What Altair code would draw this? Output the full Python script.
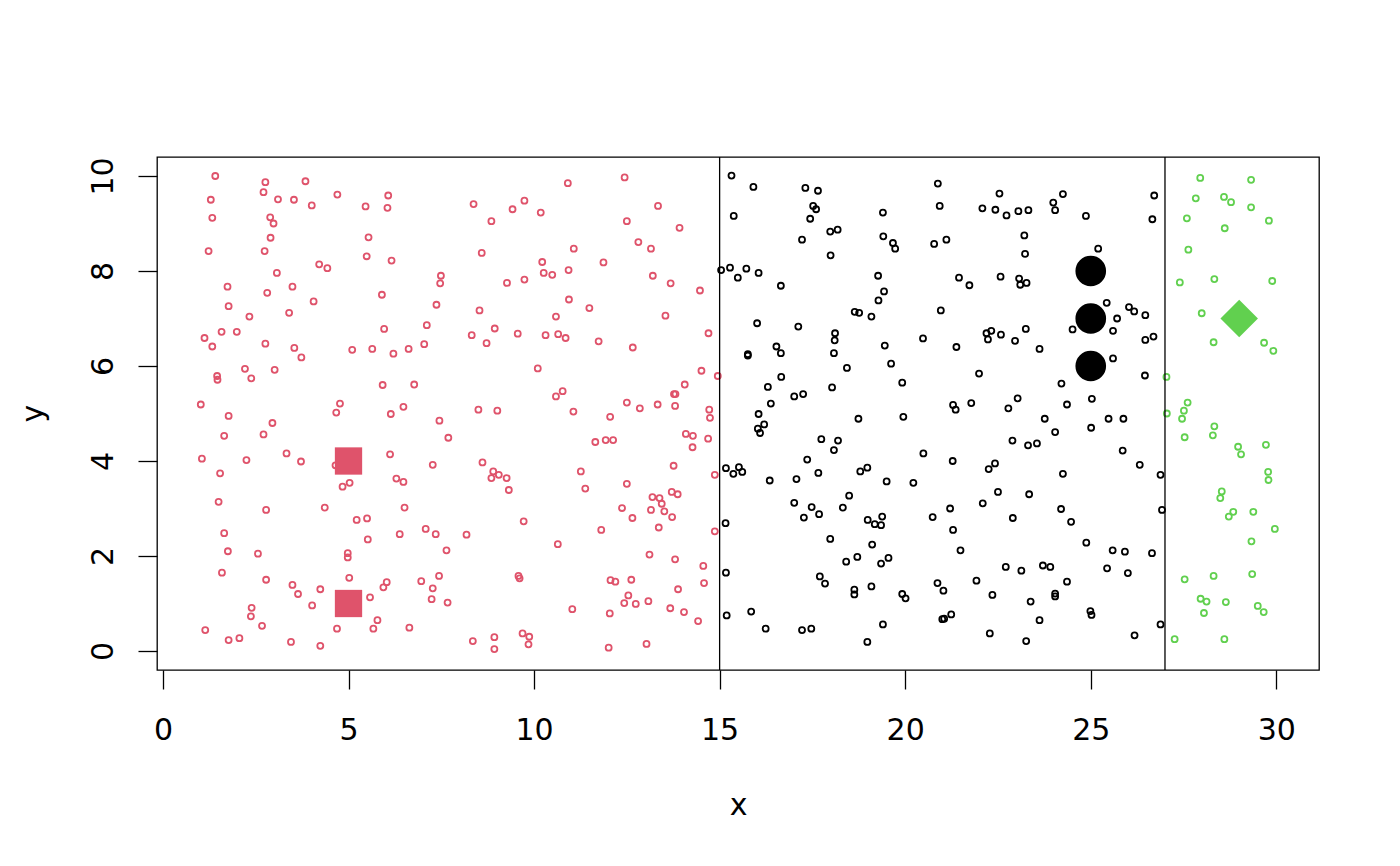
import altair as alt
import pandas as pd

# small open circles, one group per band (x < 15, 15..27, > 27)
red_x = [1.41, 2.76, 3.84, 1.29, 2.71, 3.10, 3.53, 4.01, 4.70, 6.07, 5.46, 6.05, 1.33, 2.89, 2.98, 2.90,
         5.54, 1.23, 2.74, 5.49, 6.16, 4.21, 4.43, 3.07, 7.49, 7.47, 1.74, 3.49, 2.81, 5.90, 7.37, 1.77,
         4.06, 3.40, 2.33, 7.11, 5.96, 1.58, 1.99, 1.12, 1.33, 2.76, 3.54, 3.73, 5.10, 5.64, 6.21, 6.62,
         7.04, 1.46, 1.47, 2.21, 2.38, 3.01, 5.92, 6.77, 1.02, 4.77, 4.67, 6.48, 6.14, 1.77,
         7.45, 2.95, 1.65, 2.71, 7.69, 1.05, 2.25, 3.33, 3.72, 4.65, 6.12, 7.27, 1.54, 6.29, 6.48, 5.03,
         4.84, 1.50, 2.78, 4.36, 6.51, 5.22, 5.50, 1.65, 5.52, 6.38, 7.08, 7.35, 1.75, 2.56, 4.98, 4.98,
         7.64, 1.59, 2.78, 5.02, 3.49, 3.64, 4.24, 6.03, 5.94, 6.96, 7.44, 7.27, 7.24, 7.67, 5.58, 4.02,
         2.39, 2.37, 2.67, 5.78, 5.67, 4.69, 6.64, 1.14, 1.77, 2.06, 3.45, 4.24,
         10.91, 12.44, 8.37, 9.42, 9.74, 10.18, 8.85, 13.34, 12.50, 13.92, 12.81, 13.15, 8.59, 11.07,
         10.22, 11.87, 10.26, 10.49, 10.93, 9.27, 9.74, 13.20, 13.68, 14.47, 10.94, 11.49, 8.53, 10.59,
         13.54, 8.94, 8.32, 8.72, 9.56, 10.31, 10.65, 10.85, 11.74, 12.66, 14.70, 10.10, 14.51, 14.95,
         14.06, 13.77, 13.81, 10.77, 10.59, 12.50, 12.85, 13.33, 13.80, 14.72, 8.50, 9.01, 11.06,
         12.05, 14.74, 11.65, 11.93, 12.13, 14.09, 14.28, 14.69, 14.27, 8.61, 8.90, 9.05, 8.85, 9.26,
         9.32, 11.26, 11.38, 13.76, 14.87, 12.50, 13.19, 13.38, 13.44, 13.71, 13.87, 12.37, 13.15, 13.51,
         12.65, 13.72, 13.36, 9.72, 8.18, 11.81, 14.87, 10.64, 13.11, 13.80, 14.56, 14.58, 13.88, 9.58,
         9.61, 12.06, 12.19, 12.62, 12.54, 12.43, 12.74, 13.08, 11.03, 12.04, 13.67, 14.04, 14.42, 8.35,
         8.93, 8.93, 9.69, 9.87, 9.85, 12.01, 13.03]
red_y = [10.00, 9.87, 9.89, 9.50, 9.66, 9.51, 9.50, 9.38, 9.61, 9.59, 9.36, 9.33, 9.12, 9.13, 9.00, 8.70,
         8.71, 8.42, 8.42, 8.31, 8.22, 8.14, 8.06, 7.96, 7.90, 7.74, 7.67, 7.67, 7.54, 7.50, 7.29, 7.26,
         7.36, 7.12, 7.04, 6.86, 6.78, 6.72, 6.72, 6.59, 6.41, 6.47, 6.38, 6.18, 6.34, 6.36, 6.26, 6.36,
         6.46, 5.79, 5.71, 5.94, 5.74, 5.92, 5.60, 5.61, 5.19, 5.21, 5.02, 5.14, 4.99, 4.95,
         4.85, 4.80, 4.53, 4.56, 4.49, 4.05, 4.02, 4.16, 3.99, 3.91, 4.14, 3.92, 3.74, 3.63, 3.56, 3.54,
         3.46, 3.14, 2.97, 3.02, 3.02, 2.76, 2.79, 2.48, 2.35, 2.46, 2.57, 2.46, 2.10, 2.05, 2.06, 1.97,
         2.12, 1.65, 1.50, 1.54, 1.39, 1.20, 1.30, 1.45, 1.34, 1.47, 1.58, 1.32, 1.09, 1.02, 1.13, 0.96,
         0.91, 0.73, 0.53, 0.65, 0.47, 0.47, 0.49, 0.44, 0.23, 0.27, 0.19, 0.11,
         9.85, 9.97, 9.41, 9.30, 9.48, 9.23, 9.05, 9.37, 9.05, 8.91, 8.61, 8.47, 8.38, 8.47,
         8.19, 8.18, 7.96, 7.92, 8.02, 7.75, 7.82, 7.90, 7.74, 7.59, 7.40, 7.22, 7.17, 7.04,
         7.06, 6.79, 6.65, 6.48, 6.68, 6.65, 6.67, 6.59, 6.52, 6.39, 6.69, 5.95, 5.90, 5.79,
         5.61, 5.41, 5.41, 5.47, 5.36, 5.23, 5.11, 5.19, 5.16, 5.08, 5.08, 5.06, 5.04,
         4.93, 4.91, 4.40, 4.44, 4.44, 4.57, 4.53, 4.47, 4.29, 3.97, 3.78, 3.71, 3.64, 3.64,
         3.39, 3.78, 3.42, 3.90, 3.71, 3.52, 3.24, 3.22, 3.10, 3.35, 3.30, 3.01, 2.97, 2.94,
         2.80, 2.82, 2.60, 2.73, 2.45, 2.55, 2.52, 2.25, 2.03, 1.93, 1.79, 1.43, 1.30, 1.58,
         1.53, 1.49, 1.46, 1.50, 1.17, 1.01, 0.99, 1.05, 0.88, 0.79, 0.90, 0.82, 0.63, 0.21,
         0.29, 0.04, 0.37, 0.30, 0.14, 0.07, 0.15]

black_x = [15.32, 15.38, 15.04, 15.28, 15.49, 15.17, 15.37, 15.52, 15.16, 15.17, 15.19,
           15.72, 15.91, 17.31, 17.65, 17.52, 17.60, 17.44, 17.98, 18.18, 17.22, 17.99, 20.88, 20.93,
           19.40, 19.41, 19.67, 19.73, 20.78, 21.11, 22.54, 22.08, 22.43, 22.73, 23.05, 23.32, 23.21,
           23.23, 16.05, 16.65, 19.27, 19.43, 19.28, 18.64, 18.76, 19.09, 21.45, 21.73, 22.57, 23.07,
           23.10, 23.27, 20.96, 16.01, 17.12, 18.11, 18.10, 18.08, 15.76, 15.76, 16.53, 16.65, 18.43,
           16.66, 16.30, 18.03, 17.01, 17.25, 16.38, 19.45, 19.62, 19.92, 20.48, 21.38, 22.19, 22.32,
           22.23, 22.58, 22.96, 23.25, 21.99, 21.78, 21.29, 21.36, 22.78, 23.03,
           16.05, 18.74, 19.95, 16.03, 16.20, 16.09, 17.74, 18.19, 18.08, 17.36, 15.61, 16.35, 17.07,
           17.66, 18.79, 18.98, 19.50, 20.22, 20.49, 21.28, 22.25, 22.42, 22.89, 23.31, 23.34, 22.50,
           22.09, 22.90, 17.01, 17.48, 17.27, 17.68, 18.49, 18.32, 18.99, 19.18, 19.35, 19.38, 20.74,
           21.21, 21.29, 21.49, 17.98, 19.11, 18.41, 18.71, 19.35, 19.55, 17.70, 17.84, 18.63, 18.63,
           19.09, 19.92, 20.01, 20.87, 21.03, 21.92, 22.71, 23.13, 22.35, 23.38, 15.85, 16.24, 17.22,
           17.47, 19.40, 18.98, 21.00, 21.05, 21.24, 22.28, 23.26,
           24.25, 23.99, 24.04, 24.87, 26.71, 26.66, 25.20, 25.43, 26.03, 26.17, 26.47, 25.71, 24.51,
           25.60, 26.69, 26.47, 23.62, 25.60, 26.46, 24.21, 25.03, 24.36,
           23.76, 25.48, 25.88, 24.04, 25.01, 23.55, 25.86, 26.32, 24.25, 26.88, 24.20, 26.92, 24.47,
           24.88, 25.59, 25.92, 26.65, 23.71, 23.91, 25.44, 26.00, 24.36, 24.04, 24.04, 24.99, 25.02,
           23.62, 26.88, 26.18]
black_y = [10.01, 9.16, 8.02, 8.07, 7.86, 3.85, 3.73, 3.87, 2.69, 1.65, 0.75,
           8.05, 9.77, 9.75, 9.69, 9.37, 9.30, 9.10, 8.83, 8.87, 8.66, 8.33, 9.84, 9.37,
           9.23, 8.73, 8.59, 8.47, 8.57, 8.66, 9.63, 9.32, 9.29, 9.17, 9.26, 9.28, 8.75,
           8.36, 7.96, 7.69, 7.90, 7.57, 7.38, 7.14, 7.12, 7.04, 7.86, 7.70, 7.88, 7.84,
           7.71, 7.75, 7.17, 6.90, 6.83, 6.69, 6.54, 6.27, 6.25, 6.22, 6.41, 6.27, 5.96,
           5.77, 5.56, 5.55, 5.36, 5.41, 5.21, 6.43, 6.05, 5.65, 6.58, 6.40, 6.69, 6.74,
           6.56, 6.66, 6.53, 6.78, 5.84, 5.22, 5.18, 5.08, 5.11, 5.32,
           4.99, 4.89, 4.93, 4.68, 4.77, 4.59, 4.46, 4.43, 4.23, 4.03, 3.77, 3.59, 3.62,
           3.75, 3.78, 3.86, 3.57, 3.54, 4.16, 4.00, 3.83, 3.95, 4.43, 4.33, 3.30, 3.35,
           3.11, 2.80, 3.12, 3.03, 2.81, 2.88, 3.27, 3.02, 2.76, 2.67, 2.65, 2.83, 2.82,
           3.00, 2.55, 2.12, 2.36, 2.24, 1.88, 1.98, 1.84, 1.96, 1.57, 1.42, 1.29, 1.19,
           1.36, 1.20, 1.11, 1.43, 1.27, 1.48, 1.77, 1.69, 1.18, 1.04, 0.83, 0.47, 0.44,
           0.47, 0.56, 0.19, 0.67, 0.68, 0.77, 0.37, 0.21,
           9.62, 9.44, 9.28, 9.16, 9.59, 9.09, 8.47, 7.33, 7.24, 7.15, 7.07, 7.00, 6.77,
           6.74, 6.62, 6.55, 6.36, 6.16, 5.80, 5.63, 5.31, 5.19,
           4.89, 4.89, 4.89, 4.61, 4.70, 4.37, 4.22, 3.92, 3.73, 3.71, 2.99, 2.97, 2.72,
           2.28, 2.12, 2.09, 2.06, 1.80, 1.77, 1.74, 1.64, 1.46, 1.21, 1.15, 0.84, 0.76,
           0.65, 0.56, 0.33]

green_x = [27.95, 29.32, 27.83, 28.59, 28.78, 29.32, 27.59, 28.61, 29.80, 27.63, 27.40, 28.33, 29.89,
           27.99, 28.31, 29.67, 29.92, 27.04, 27.61, 27.51,
           27.05, 27.46, 28.33, 28.29, 27.53, 28.97, 29.05, 29.72, 29.78, 29.79, 28.53, 28.49, 28.84,
           28.72, 29.38, 29.96, 29.33, 29.35, 28.31, 27.53, 27.96, 28.12, 28.64, 29.50, 29.66, 28.05,
           27.26, 28.60]
green_y = [9.96, 9.92, 9.53, 9.56, 9.45, 9.34, 9.11, 8.90, 9.06, 8.45, 7.76, 7.83, 7.79,
           7.11, 6.50, 6.49, 6.32, 5.77, 5.23, 5.06,
           5.00, 4.89, 4.73, 4.54, 4.50, 4.30, 4.14, 4.34, 3.77, 3.60, 3.36, 3.22, 2.93,
           2.83, 2.93, 2.57, 2.31, 1.62, 1.58, 1.51, 1.10, 1.04, 1.03, 0.95, 0.82, 0.80,
           0.25, 0.25]

# band limits drawn as vertical lines
cuts = [15, 27]

# big filled markers
square_x = [5, 5]
square_y = [4, 1]
dot_x = [25, 25, 25]
dot_y = [8, 7, 6]
diamond_x = [29]
diamond_y = [7]

RED = "#DF536B"
GREEN = "#61D04F"
FONT = "DejaVu Sans"

small = pd.concat([
    pd.DataFrame({"x": red_x, "y": red_y, "grp": "a"}),
    pd.DataFrame({"x": black_x, "y": black_y, "grp": "b"}),
    pd.DataFrame({"x": green_x, "y": green_y, "grp": "c"}),
], ignore_index=True)

xscale = alt.Scale(domain=[-0.16, 31.15], nice=False, zero=False)
yscale = alt.Scale(domain=[-0.4, 10.4], nice=False, zero=False)

xaxis = alt.Axis(values=[0, 5, 10, 15, 20, 25, 30], grid=False, domain=False,
                 tickSize=19, tickWidth=1.3, tickColor="black",
                 labelFont=FONT, labelFontSize=30, labelColor="black", labelPadding=26,
                 title="x", titleFont=FONT, titleFontSize=30, titleFontWeight="normal",
                 titleColor="black", titleX=581, titleY=144, titleAlign="center",
                 titleBaseline="alphabetic")
yaxis = alt.Axis(values=[0, 2, 4, 6, 8, 10], grid=False, domain=False,
                 tickSize=19, tickWidth=1.3, tickColor="black",
                 labelFont=FONT, labelFontSize=30, labelColor="black", labelPadding=26,
                 labelAngle=270, labelAlign="center", labelBaseline="alphabetic",
                 title="y", titleFont=FONT, titleFontSize=30, titleFontWeight="normal",
                 titleColor="black", titleX=-115, titleY=256, titleAngle=270,
                 titleAlign="center", titleBaseline="alphabetic")

points = alt.Chart(small).mark_point(shape="circle", filled=False, size=36, strokeWidth=1.8,
                                     opacity=1).encode(
    x=alt.X("x:Q", scale=xscale, axis=xaxis),
    y=alt.Y("y:Q", scale=yscale, axis=yaxis),
    color=alt.Color("grp:N", scale=alt.Scale(domain=["a", "b", "c"],
                                             range=[RED, "black", GREEN]), legend=None),
)

rules = alt.Chart(pd.DataFrame({"x": cuts})).mark_rule(color="black", strokeWidth=1.3).encode(
    x=alt.X("x:Q", scale=xscale)
)

squares = alt.Chart(pd.DataFrame({"x": square_x, "y": square_y})).mark_point(
    shape="square", filled=True, size=745, color=RED, opacity=1, strokeWidth=0).encode(
    x=alt.X("x:Q", scale=xscale), y=alt.Y("y:Q", scale=yscale))

dots = alt.Chart(pd.DataFrame({"x": dot_x, "y": dot_y})).mark_point(
    shape="circle", filled=True, size=940, color="black", opacity=1, strokeWidth=0).encode(
    x=alt.X("x:Q", scale=xscale), y=alt.Y("y:Q", scale=yscale))

diamonds = alt.Chart(pd.DataFrame({"x": diamond_x, "y": diamond_y})).mark_point(
    shape="diamond", filled=True, size=1406, color=GREEN, opacity=1, strokeWidth=0).encode(
    x=alt.X("x:Q", scale=xscale), y=alt.Y("y:Q", scale=yscale))

chart = alt.layer(points, rules, squares, dots, diamonds).properties(
    width=1162, height=513,
    padding={"left": 149, "top": 149, "right": 60, "bottom": 180},
    autosize=alt.AutoSizeParams(type="none"),
    background="white",
).configure_view(stroke="black", strokeWidth=1.3)

chart.save("out.html", embed_options={"renderer": "svg", "actions": False})
